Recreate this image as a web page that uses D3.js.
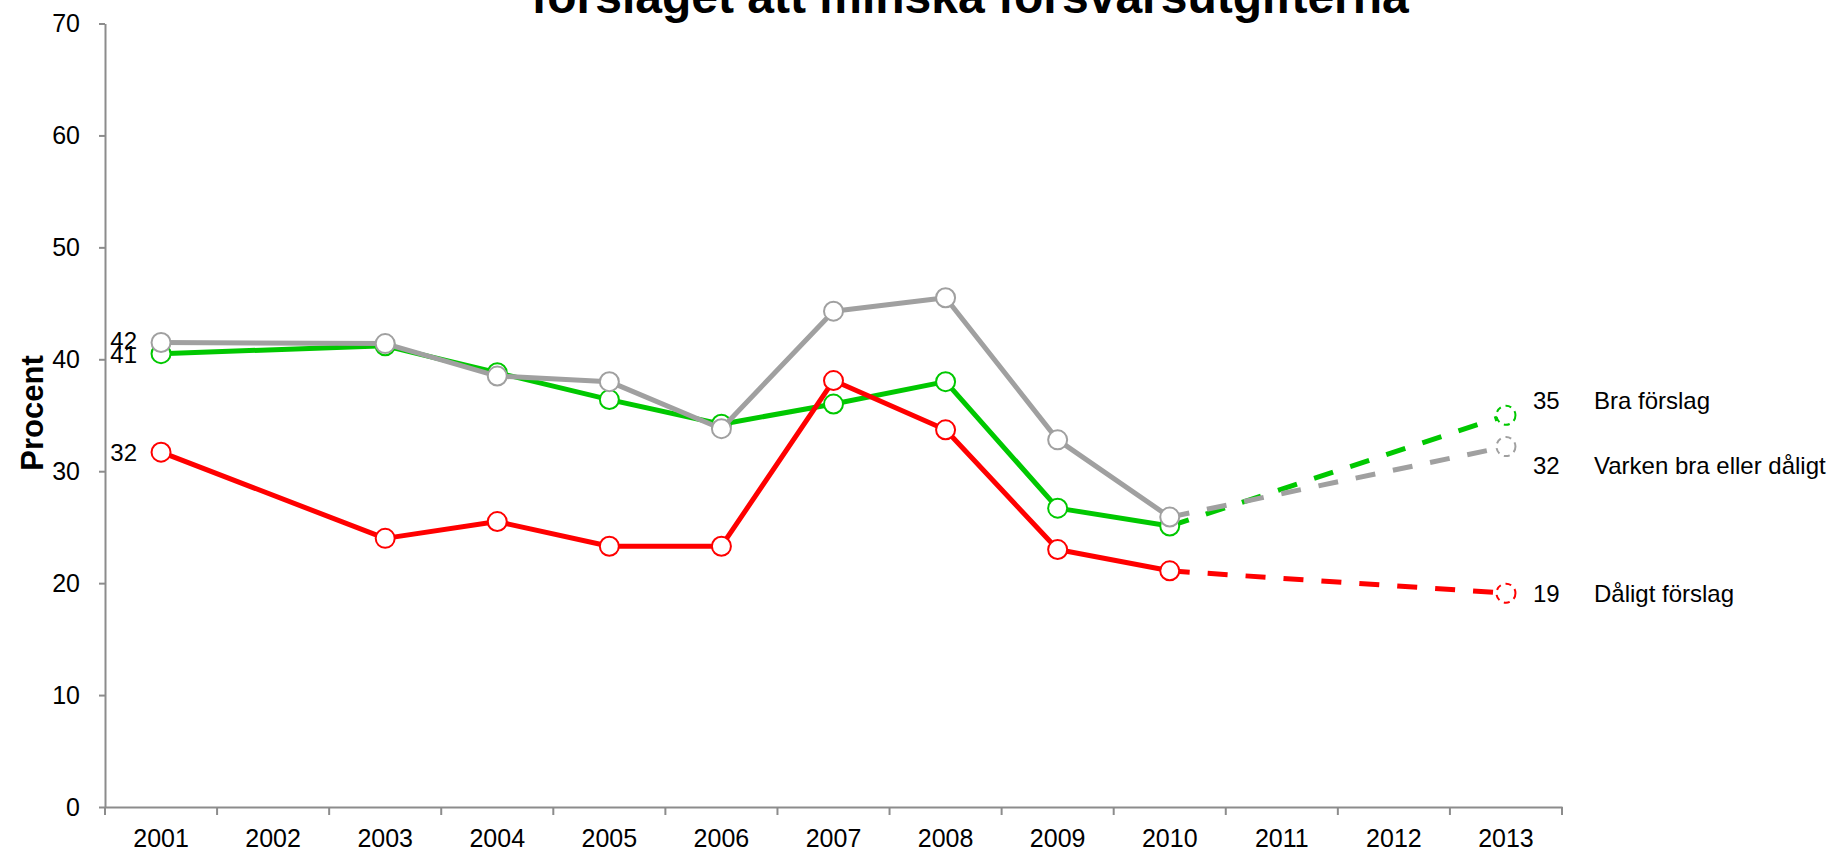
<!DOCTYPE html>
<html>
<head>
<meta charset="utf-8">
<script src="https://cdn.jsdelivr.net/npm/d3@7"></script>
<style>
  body { margin: 0; background: #fff; }
  svg { display: block; font-family: "Liberation Sans", Arial, sans-serif; }
</style>
</head>
<body>
<div id="chart"></div>
<script>
// years on the axis (2002, 2011, 2012 have no measurement)
var years = ["2001","2002","2003","2004","2005","2006","2007","2008","2009","2010","2011","2012","2013"];
var obsYears = ["2001","2003","2004","2005","2006","2007","2008","2009","2010"];
var projYears = ["2010","2013"];

// Bra förslag
var bra = [40.5, 41.2, 38.8, 36.4, 34.2, 36.0, 38.0, 26.7, 25.1];
var braProj = [25.1, 35];
// Varken bra eller dåligt
var varken = [41.5, 41.4, 38.5, 38.0, 33.8, 44.3, 45.5, 32.8, 25.9];
var varkenProj = [25.9, 32.2];
// Dåligt förslag
var daligt = [31.7, 24.0, 25.5, 23.3, 23.3, 38.1, 33.7, 23.0, 21.1];
var daligtProj = [21.1, 19.1];

var yTicks = [0, 10, 20, 30, 40, 50, 60, 70];
var startLabels = ["41", "42", "32"];
var endLabels = ["35", "32", "19"];
var seriesNames = ["Bra förslag", "Varken bra eller dåligt", "Dåligt förslag"];

var W = 1831, H = 851;
var plotLeft = 105, plotRight = 1562, plotTop = 23.5, plotBottom = 807;

var svg = d3.select("#chart").append("svg")
    .attr("width", W).attr("height", H);

var x = d3.scaleBand().domain(years).range([plotLeft, plotRight]).paddingInner(0).paddingOuter(0);
var y = d3.scaleLinear().domain([0, 70]).range([plotBottom, plotTop]);
var cx = function(yr) { return x(yr) + x.bandwidth() / 2; };

// title (only its second line is visible, the rest is above the page)
svg.append("text")
    .attr("x", 970).attr("y", 13)
    .attr("text-anchor", "middle")
    .style("font-size", "48px").style("font-weight", "bold")
    .text("förslaget att minska försvarsutgifterna");

// y axis
var yAxis = svg.append("g")
    .attr("transform", "translate(" + plotLeft + ",0)")
    .call(d3.axisLeft(y).tickValues(yTicks).tickSize(6).tickSizeOuter(0).tickPadding(19));
yAxis.selectAll("text").style("font-size", "25px").attr("fill", "#000").attr("font-family", null);
yAxis.selectAll("line, path").attr("stroke", "#8c8c8c").attr("stroke-width", 2);

// x axis: labels centred in bands, ticks on band boundaries
var xAxis = svg.append("g")
    .attr("transform", "translate(0," + plotBottom + ")")
    .call(d3.axisBottom(x).tickSize(0).tickSizeOuter(0).tickPadding(22));
xAxis.selectAll("text").style("font-size", "25px").attr("fill", "#000").attr("font-family", null)
    .attr("dy", "0.71em");
xAxis.select("path").attr("stroke", "#8c8c8c").attr("stroke-width", 2);
xAxis.selectAll("line.bound")
    .data(years.concat(["end"]))
    .join("line")
    .attr("class", "bound")
    .attr("x1", function(d) { return d === "end" ? plotRight : x(d); })
    .attr("x2", function(d) { return d === "end" ? plotRight : x(d); })
    .attr("y1", 0).attr("y2", 8)
    .attr("stroke", "#8c8c8c").attr("stroke-width", 2);

// axis title
svg.append("text")
    .attr("transform", "translate(43,413) rotate(-90)")
    .attr("text-anchor", "middle")
    .style("font-size", "31px").style("font-weight", "bold")
    .text("Procent");

var series = [
    { vals: bra, proj: braProj, color: "#00c800", name: seriesNames[0], s: startLabels[0], e: endLabels[0], sdy: 1, edy: -15 },
    { vals: daligt, proj: daligtProj, color: "#ff0000", name: seriesNames[2], s: startLabels[2], e: endLabels[2], sdy: 0, edy: 0 },
    { vals: varken, proj: varkenProj, color: "#a0a0a0", name: seriesNames[1], s: startLabels[1], e: endLabels[1], sdy: -2, edy: 19 }
];

var line = d3.line().x(function(d) { return cx(d[0]); }).y(function(d) { return y(d[1]); });

series.forEach(function(s) {
    var g = svg.append("g");
    var obs = obsYears.map(function(yr, i) { return [yr, s.vals[i]]; });
    var proj = projYears.map(function(yr, i) { return [yr, s.proj[i]]; });

    g.append("path").datum(proj)
        .attr("d", line).attr("fill", "none")
        .attr("stroke", s.color).attr("stroke-width", 5)
        .attr("stroke-dasharray", "20,18");

    g.append("path").datum(obs)
        .attr("d", line).attr("fill", "none")
        .attr("stroke", s.color).attr("stroke-width", 5)
        .attr("stroke-linejoin", "round");

    g.selectAll("circle.obs").data(obs).join("circle")
        .attr("class", "obs")
        .attr("cx", function(d) { return cx(d[0]); })
        .attr("cy", function(d) { return y(d[1]); })
        .attr("r", 9.5)
        .attr("fill", "#fff").attr("stroke", s.color).attr("stroke-width", 2);

    g.append("circle")
        .attr("cx", cx("2013")).attr("cy", y(s.proj[1])).attr("r", 9.5)
        .attr("fill", "#fff").attr("stroke", s.color).attr("stroke-width", 2)
        .attr("stroke-dasharray", "6,5");
});

// data labels
series.forEach(function(s) {
    svg.append("text")
        .attr("x", cx("2001") - 24).attr("y", y(s.vals[0]) + s.sdy)
        .attr("dy", "0.36em").attr("text-anchor", "end")
        .style("font-size", "24px")
        .text(s.s);
    svg.append("text")
        .attr("x", cx("2013") + 27).attr("y", y(s.proj[1]) + s.edy)
        .attr("dy", "0.36em")
        .style("font-size", "24px")
        .text(s.e);
    svg.append("text")
        .attr("x", 1594).attr("y", y(s.proj[1]) + s.edy)
        .attr("dy", "0.36em")
        .style("font-size", "24px")
        .text(s.name);
});
</script>
</body>
</html>
